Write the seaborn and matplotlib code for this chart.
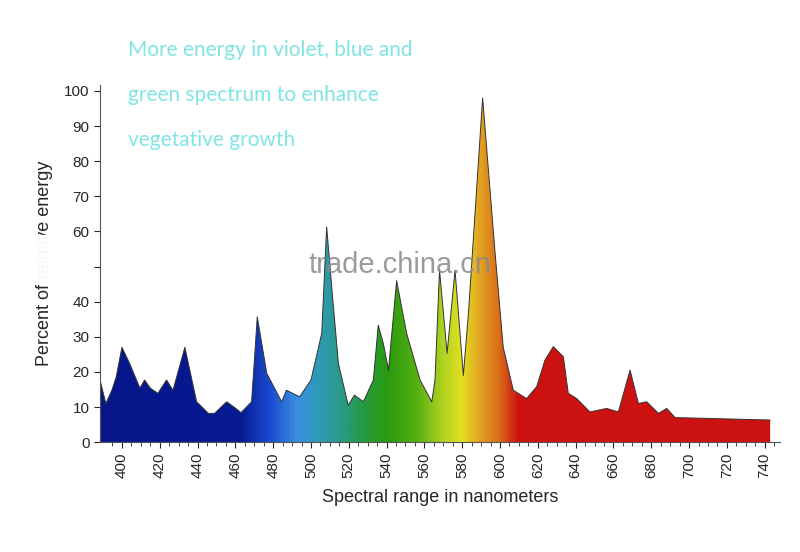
import numpy as np
import pandas as pd
import matplotlib
matplotlib.use('Agg')
import matplotlib.pyplot as plt
from matplotlib.colors import LinearSegmentedColormap
from matplotlib.patches import Rectangle
import seaborn as sns

# wavelength (nm) and relative energy
wavelength = [388.4, 391.5, 394.7, 397, 400, 404, 409.5, 412, 415, 419, 423.6, 427, 433.3,
              439.5, 445.7, 449, 455.4, 460, 463, 468.6, 471.6, 476.6, 484.5, 487, 494, 500,
              505.7, 508.3, 511, 514.5, 519.7, 523, 527.7, 533, 535.6, 538.3, 541, 545.3,
              550.6, 557.7, 563.9, 565.6, 568, 572, 576.2, 580.6, 583.3, 590.8, 597.4, 601.7,
              607, 614, 619.4, 623.8, 628.2, 633.5, 636.1, 640.6, 647.6, 656.4, 662.6, 668.8,
              673.2, 677.6, 683.8, 688.2, 692.6, 742.9]
energy = [17.7, 11, 14.8, 18.6, 27, 22.5, 15.4, 17.7, 15.4, 13.9, 17.7, 14.8, 27,
          11.5, 8.2, 8.2, 11.5, 9.7, 8.4, 11.5, 35.7, 19.6, 11.5, 14.8, 12.9, 17.7,
          31, 61.3, 44, 22.4, 10.5, 13.4, 11.5, 17.7, 33.3, 28, 20.5, 46,
          31, 17.7, 11.5, 17.7, 49, 25.3, 49, 19, 36.7, 98, 53.8, 27,
          14.8, 12.4, 15.8, 23.4, 27.2, 24.3, 13.9, 12.4, 8.6, 9.6, 8.6, 20.5,
          11, 11.5, 8.2, 9.6, 7, 6.3]

y_ticks = [0, 10, 20, 30, 40, 50, 60, 70, 80, 90, 100]
y_tick_labels = ['0', '10', '20', '30', '40', '', '60', '70', '80', '90', '100']
x_ticks = list(range(400, 741, 20))

spectrum_nm = [388, 462, 478, 492, 503, 515, 528, 540, 556, 570, 580, 590, 600, 610, 760]
spectrum_col = ['#06168a', '#061a92', '#1a4cd0', '#3a8fe2', '#2f9ab8', '#2a9a8a', '#259a40',
                '#2a9a10', '#55b012', '#b4d222', '#e2e022', '#e2a020', '#d86a18', '#cc1212', '#cc1111']

df = pd.DataFrame({'nm': wavelength, 'energy': energy})

sns.set_style('white')
plt.rcParams['font.family'] = ['Liberation Sans', 'DejaVu Sans']

fig = plt.figure(figsize=(8, 5.52), dpi=100)
ax = fig.add_axes([0.125, 0.199, 0.85, 0.647])
x0, x1, y1 = 388.4, 748.1, 101.7

# gradient image clipped to the area under the curve
lo, hi = spectrum_nm[0], spectrum_nm[-1]
cmap = LinearSegmentedColormap.from_list(
    'spec', [((n - lo) / (hi - lo), c) for n, c in zip(spectrum_nm, spectrum_col)])
grad = np.linspace(0, 1, 600).reshape(1, -1)
img = ax.imshow(grad, cmap=cmap, aspect='auto', extent=[lo, hi, 0, y1], zorder=1)
poly = ax.fill_between(df['nm'], df['energy'], 0, color='none')
img.set_clip_path(poly.get_paths()[0], transform=ax.transData)
sns.lineplot(data=df, x='nm', y='energy', ax=ax, color='#333333', lw=0.7, zorder=2)

ax.set_xlim(x0, x1)
ax.set_ylim(0, y1)
ax.set_xticks(x_ticks)
ax.set_xticks(np.arange(395, 748, 5), minor=True)
ax.set_xticklabels([str(t) for t in x_ticks], rotation=90, fontsize=11)
ax.set_yticks(y_ticks)
ax.set_yticklabels(y_tick_labels, fontsize=11)
ax.tick_params(axis='both', which='major', length=4, width=0.8, direction='out', bottom=True, left=True)
ax.tick_params(axis='x', which='minor', length=3, width=0.6, direction='out', bottom=True)
for s in ['top', 'right']:
    ax.spines[s].set_visible(False)
for s in ['left', 'bottom']:
    ax.spines[s].set_color('#555555')
    ax.spines[s].set_linewidth(0.8)

ax.set_xlabel('Spectral range in nanometers', fontsize=13, labelpad=8)
ax.set_ylabel('Percent of relative energy', fontsize=13, labelpad=8)

# watermark blur band hiding part of the y label
fig.patches.append(Rectangle((0.03, 0.488), 0.05, 0.086, transform=fig.transFigure,
                             color='white', alpha=0.97, zorder=5))
fig.text(0.5, 0.52, 'trade.china.cn', fontsize=21, color='#8a8a8a', alpha=0.85,
         ha='center', va='center', zorder=6)

for i, line in enumerate(['More energy in violet, blue and', 'green spectrum to enhance',
                          'vegetative growth']):
    fig.text(0.16, 0.91 - i * 0.082, line, fontsize=15, color='#80e4e4',
             family=['Lato', 'DejaVu Sans'], ha='left', va='center')

fig.savefig('out.png', dpi=100)
